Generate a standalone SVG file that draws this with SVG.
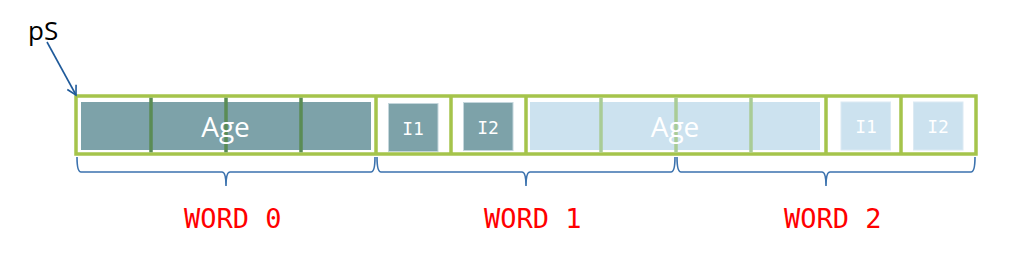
<svg xmlns="http://www.w3.org/2000/svg" width="1017" height="275" viewBox="0 0 1017 275">
<style>
.dark{fill:#7da2a9}
.light{fill:#cce2ef}
.small{stroke:#c4d6dc;stroke-width:1}
.smalll{stroke:#dceaf3;stroke-width:1}
.grid{fill:none;stroke:#a5c44b;stroke-width:3.5}
.div-d{stroke:#5a8c55;stroke-width:3.5}
.div-l{stroke:#a9cc96;stroke-width:3.5}
.brace{fill:none;stroke:#3b72ae;stroke-width:1.6}
.lbl{font-family:"Open Sans","Liberation Sans",sans-serif;fill:#ffffff}
.mono{font-family:"DejaVu Sans Mono","Liberation Mono",monospace;font-size:18px;fill:#ffffff}
.word{font-family:"DejaVu Sans Mono","Liberation Mono",monospace;font-size:27px;fill:#ff0000}
</style>
<defs>
<marker id="ah" markerWidth="12" markerHeight="12" refX="10" refY="6" orient="auto" markerUnits="userSpaceOnUse">
<path d="M1,1 L10,6 L1,11" fill="none" stroke="#1f5a9a" stroke-width="1.6"/>
</marker>
</defs>
<rect width="1017" height="275" fill="#ffffff"/>

<g id="fills">
<rect class="dark" x="81" y="102" width="290" height="48"/>
<rect class="dark small" x="388.5" y="103.5" width="49.5" height="48"/>
<rect class="dark small" x="463.5" y="102.5" width="49.5" height="48"/>
<rect class="light" x="530" y="102" width="290" height="48"/>
<rect class="light smalll" x="841" y="102" width="49.5" height="48"/>
<rect class="light smalll" x="913.5" y="102" width="49.5" height="48"/>
</g>

<g id="grid">
<rect class="grid" x="76" y="96" width="900" height="58"/>
<path class="grid" d="M376,96V154M451,96V154M526,96V154M826,96V154M901,96V154"/>
<path class="div-d" d="M151,97.8V152.2M226,97.8V152.2M301,97.8V152.2"/>
<path class="div-l" d="M601,97.8V152.2M676,97.8V152.2M751,97.8V152.2"/>
</g>

<g id="word0">
<text class="lbl" x="225.5" y="137" font-size="28" text-anchor="middle">Age</text>
</g>
<g id="word1">
<text class="mono" x="413" y="135" text-anchor="middle">I1</text>
<text class="mono" x="488" y="134" text-anchor="middle">I2</text>
<text class="lbl" x="675" y="137" font-size="28" text-anchor="middle">Age</text>
</g>
<g id="word2">
<text class="mono" x="866" y="133" text-anchor="middle">I1</text>
<text class="mono" x="938" y="133" text-anchor="middle">I2</text>
</g>

<g id="connectors">
<path class="brace" d="M77,157 Q77,172 81,172 H222 Q226,172 226,186 Q226,172 230,172 H371 Q375,172 375,157"/>
<path class="brace" d="M377,157 Q377,172 381,172 H522 Q526,172 526,186 Q526,172 530,172 H671 Q675,172 675,157"/>
<path class="brace" d="M677,157 Q677,172 681,172 H822 Q826,172 826,186 Q826,172 830,172 H971 Q975,172 975,157"/>
<line x1="47" y1="42" x2="76" y2="95" stroke="#1f5a9a" stroke-width="1.6" marker-end="url(#ah)"/>
</g>

<g id="pS">
<text x="28" y="40" font-family="Open Sans, Liberation Sans, sans-serif" font-size="26" fill="#000000">pS</text>
</g>
<g id="labels">
<text class="word" x="184" y="228">WORD 0</text>
<text class="word" x="484" y="228">WORD 1</text>
<text class="word" x="784" y="228">WORD 2</text>
</g>
</svg>
